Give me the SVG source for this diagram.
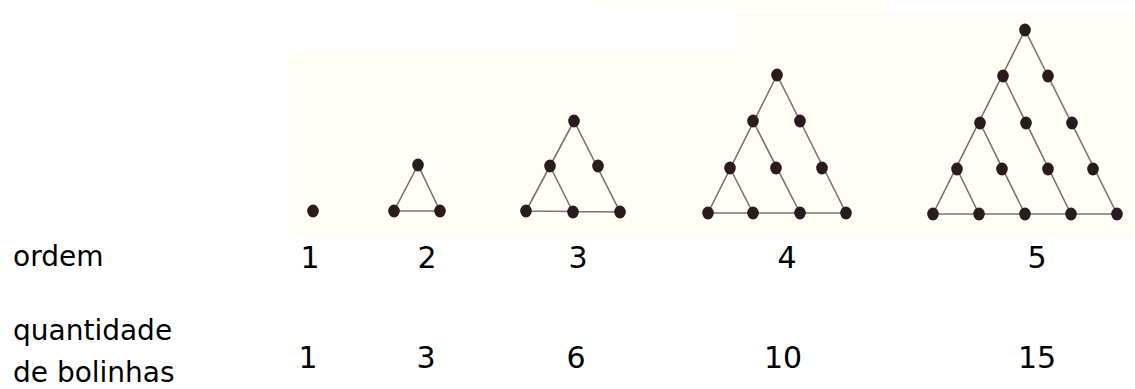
<svg xmlns="http://www.w3.org/2000/svg" width="1135" height="389" viewBox="0 0 1135 389">
<style>
.bg{fill:#fffdf6}
.edge{stroke:#7a7370;stroke-width:1.6;fill:none;stroke-linecap:round}
.dot{fill:#2a1b1f}
.lbl{font-family:"DejaVu Sans",sans-serif;font-size:28px;fill:#000}
.num{font-family:"DejaVu Sans",sans-serif;font-size:30px;fill:#000;text-anchor:middle}
</style>
<rect width="1135" height="389" fill="#ffffff"/>
<rect class="bg" x="290" y="52" width="845" height="184"/>
<rect class="bg" x="735" y="12" width="400" height="42"/>
<rect class="bg" x="592" y="0" width="300" height="7"/>
<g id="connectors">
<path class="edge" d="M418,165 L394,211 L440,211 Z"/>
<path class="edge" d="M574,121 L526,211 L620,212 Z M573,212 L550,166"/>
<path class="edge" d="M777,75 L708,213 L846,213 Z M753,213 L730,168 M800,213 L753,121"/>
<path class="edge" d="M1025,30 L933,214 L1117,214 Z M979,214 L957,169 M1025,214 L980,123 M1071,214 L1003,76"/>
</g>
<g id="fig1">
<ellipse class="dot" cx="313" cy="211" rx="5.8" ry="6.4"/>
</g>
<g id="fig2">
<ellipse class="dot" cx="418" cy="165" rx="5.8" ry="6.4"/>
<ellipse class="dot" cx="394" cy="211" rx="5.8" ry="6.4"/>
<ellipse class="dot" cx="440" cy="211" rx="5.8" ry="6.4"/>
</g>
<g id="fig3">
<ellipse class="dot" cx="574" cy="121" rx="5.8" ry="6.4"/>
<ellipse class="dot" cx="550" cy="166" rx="5.8" ry="6.4"/>
<ellipse class="dot" cx="598" cy="166" rx="5.8" ry="6.4"/>
<ellipse class="dot" cx="526" cy="211" rx="5.8" ry="6.4"/>
<ellipse class="dot" cx="573" cy="212" rx="5.8" ry="6.4"/>
<ellipse class="dot" cx="620" cy="212" rx="5.8" ry="6.4"/>
</g>
<g id="fig4">
<ellipse class="dot" cx="777" cy="75" rx="5.8" ry="6.4"/>
<ellipse class="dot" cx="753" cy="121" rx="5.8" ry="6.4"/>
<ellipse class="dot" cx="800" cy="121" rx="5.8" ry="6.4"/>
<ellipse class="dot" cx="730" cy="168" rx="5.8" ry="6.4"/>
<ellipse class="dot" cx="776" cy="168" rx="5.8" ry="6.4"/>
<ellipse class="dot" cx="822" cy="168" rx="5.8" ry="6.4"/>
<ellipse class="dot" cx="708" cy="213" rx="5.8" ry="6.4"/>
<ellipse class="dot" cx="753" cy="213" rx="5.8" ry="6.4"/>
<ellipse class="dot" cx="800" cy="213" rx="5.8" ry="6.4"/>
<ellipse class="dot" cx="846" cy="213" rx="5.8" ry="6.4"/>
</g>
<g id="fig5">
<ellipse class="dot" cx="1025" cy="30" rx="5.8" ry="6.4"/>
<ellipse class="dot" cx="1003" cy="76" rx="5.8" ry="6.4"/>
<ellipse class="dot" cx="1048" cy="76" rx="5.8" ry="6.4"/>
<ellipse class="dot" cx="980" cy="123" rx="5.8" ry="6.4"/>
<ellipse class="dot" cx="1026" cy="123" rx="5.8" ry="6.4"/>
<ellipse class="dot" cx="1072" cy="123" rx="5.8" ry="6.4"/>
<ellipse class="dot" cx="957" cy="169" rx="5.8" ry="6.4"/>
<ellipse class="dot" cx="1002" cy="169" rx="5.8" ry="6.4"/>
<ellipse class="dot" cx="1048" cy="169" rx="5.8" ry="6.4"/>
<ellipse class="dot" cx="1093" cy="169" rx="5.8" ry="6.4"/>
<ellipse class="dot" cx="933" cy="214" rx="5.8" ry="6.4"/>
<ellipse class="dot" cx="979" cy="214" rx="5.8" ry="6.4"/>
<ellipse class="dot" cx="1025" cy="214" rx="5.8" ry="6.4"/>
<ellipse class="dot" cx="1071" cy="214" rx="5.8" ry="6.4"/>
<ellipse class="dot" cx="1117" cy="214" rx="5.8" ry="6.4"/>
</g>
<g id="labels">
<text class="lbl" x="13" y="266">ordem</text>
<text class="lbl" x="13" y="340">quantidade</text>
<text class="lbl" x="13" y="382">de bolinhas</text>
</g>
<g id="order-numbers">
<text class="num" x="310" y="268">1</text>
<text class="num" x="427" y="268">2</text>
<text class="num" x="578" y="268">3</text>
<text class="num" x="787" y="268">4</text>
<text class="num" x="1037" y="268">5</text>
</g>
<g id="count-numbers">
<text class="num" x="308" y="368">1</text>
<text class="num" x="426" y="368">3</text>
<text class="num" x="576" y="368">6</text>
<text class="num" x="783" y="368">10</text>
<text class="num" x="1037" y="368">15</text>
</g>
</svg>
